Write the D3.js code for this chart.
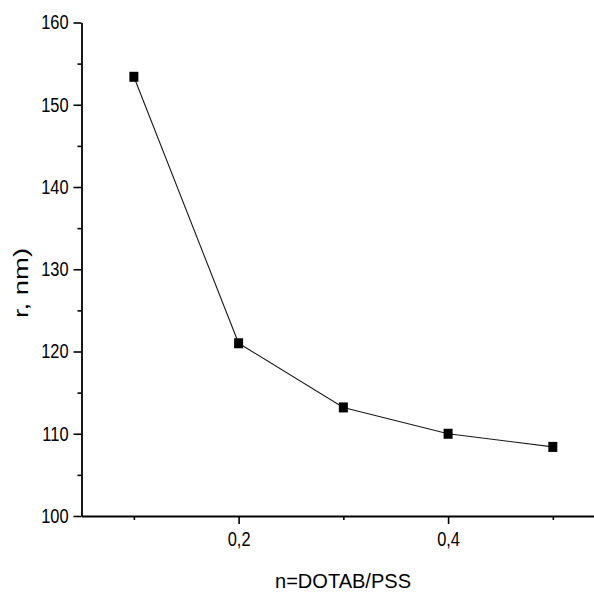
<!DOCTYPE html>
<html>
<head>
<meta charset="utf-8">
<script src="https://cdn.jsdelivr.net/npm/d3@7"></script>
<style>
  html, body { margin: 0; padding: 0; background: #fff; }
  svg { display: block; }
  text { font-family: "Liberation Sans", Arial, sans-serif; fill: #000; }
</style>
</head>
<body>
<svg id="chart" width="594" height="592"></svg>
<script>
// Particle radius versus DOTAB/PSS ratio
const ratios = [0.1, 0.2, 0.3, 0.4, 0.5];
const radii = [153.4, 121.0, 113.2, 110.0, 108.4];

const xMajorTicks = [0.2, 0.4];
const xMinorTicks = [0.1, 0.3, 0.5];
const xTickLabels = ["0,2", "0,4"];
const yMajorTicks = [100, 110, 120, 130, 140, 150, 160];
const yMinorTicks = [105, 115, 125, 135, 145, 155];

const svg = d3.select("#chart");

const x = d3.scaleLinear().domain([0.05, 0.55]).range([81.5, 605.2]);
const y = d3.scaleLinear().domain([100, 160]).range([516, 22.5]);

const fontSize = 20;
const narrow = 0.82; // condensed look for the labels

// Y axis: major ticks with labels, minor ticks without
svg.append("g")
  .attr("transform", `translate(${x(0.05)},0)`)
  .call(d3.axisLeft(y).tickValues(yMajorTicks).tickSize(8).tickSizeOuter(0).tickPadding(5).tickFormat(d3.format("d")));
svg.append("g")
  .attr("transform", `translate(${x(0.05)},0)`)
  .call(d3.axisLeft(y).tickValues(yMinorTicks).tickSize(4).tickSizeOuter(0).tickFormat(""))
  .select(".domain").remove();

// X axis
svg.append("g")
  .attr("transform", `translate(0,${y(100)})`)
  .call(d3.axisBottom(x).tickValues(xMajorTicks).tickSize(8).tickSizeOuter(0).tickPadding(8)
    .tickFormat((d, i) => xTickLabels[i]));
svg.append("g")
  .attr("transform", `translate(0,${y(100)})`)
  .call(d3.axisBottom(x).tickValues(xMinorTicks).tickSize(4).tickSizeOuter(0).tickFormat(""))
  .select(".domain").remove();

svg.selectAll(".domain").attr("stroke", "#000").attr("stroke-width", 1.8);
svg.selectAll(".tick line").attr("stroke", "#000").attr("stroke-width", 1.6);
svg.selectAll(".tick text")
  .attr("font-family", null)
  .attr("font-size", null)
  .style("font-size", fontSize + "px")
  .attr("fill", "#000")
  .each(function () {
    const w = this.getComputedTextLength();
    d3.select(this).attr("textLength", w * narrow).attr("lengthAdjust", "spacingAndGlyphs");
  });

// Connecting line
const line = d3.line().x((d, i) => x(ratios[i])).y(d => y(d));
svg.append("path")
  .datum(radii)
  .attr("d", line)
  .attr("fill", "none")
  .attr("stroke", "#1a1a1a")
  .attr("stroke-width", 1.1);

// Square markers
const mw = 9, mh = 10;
svg.selectAll("rect.marker")
  .data(radii)
  .join("rect")
  .attr("class", "marker")
  .attr("x", (d, i) => x(ratios[i]) - mw / 2)
  .attr("y", d => y(d) - mh / 2)
  .attr("width", mw)
  .attr("height", mh)
  .attr("fill", "#000");

// Axis titles
svg.append("text")
  .attr("x", 343)
  .attr("y", 588)
  .attr("text-anchor", "middle")
  .style("font-size", "21px")
  .attr("textLength", 136)
  .attr("lengthAdjust", "spacingAndGlyphs")
  .text("n=DOTAB/PSS");

svg.append("text")
  .attr("transform", "translate(28,283) rotate(-90)")
  .attr("text-anchor", "middle")
  .style("font-size", "21px")
  .attr("textLength", 70)
  .attr("lengthAdjust", "spacingAndGlyphs")
  .text("r, nm)");
</script>
</body>
</html>
